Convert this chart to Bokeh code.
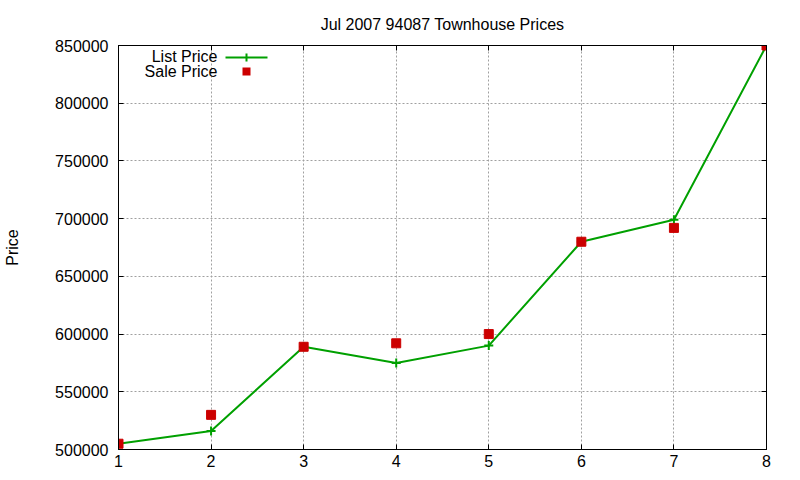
from bokeh.plotting import figure
from bokeh.models import (Range1d, LinearAxis, FixedTicker, Label, BoxAnnotation,
                          ColumnDataSource, BasicTickFormatter)
from bokeh.embed import file_html
from bokeh.resources import INLINE

title_text = "Jul 2007 94087 Townhouse Prices"
y_label = "Price"
series_names = ["List Price", "Sale Price"]
x_ticks = [1, 2, 3, 4, 5, 6, 7, 8]
y_ticks = [500000, 550000, 600000, 650000, 700000, 750000, 800000, 850000]
index = [1, 2, 3, 4, 5, 6, 7, 8]
list_price = [505000, 516000, 589000, 575000, 590000, 680000, 699000, 850000]
sale_price = [505000, 530000, 589000, 592000, 600000, 680000, 692000, 850000]

GREEN = "#00a000"
RED = "#cc0000"
FONT = "Liberation Sans"

W, H = 784, 473
B_LEFT, B_RIGHT, B_TOP, B_BOTTOM = 118, 18, 45, 24
FRAME_H = H - B_TOP - B_BOTTOM

src = ColumnDataSource(dict(x=index, lp=list_price, sp=sale_price))

p = figure(width=W, height=H, output_backend="svg", toolbar_location=None,
           x_range=Range1d(x_ticks[0], x_ticks[-1]), y_range=Range1d(y_ticks[0], y_ticks[-1]),
           min_border_left=B_LEFT, min_border_right=B_RIGHT,
           min_border_top=B_TOP, min_border_bottom=B_BOTTOM)
p.background_fill_color = "white"
p.border_fill_color = "white"
p.outline_line_color = "black"
p.outline_line_width = 1

p.title.text = title_text
p.title.text_font = FONT
p.title.text_font_size = "16px"
p.title.text_font_style = "normal"
p.title.align = "center"
p.title.text_color = "black"
p.title.standoff = 26

for ax in p.xaxis + p.yaxis:
    ax.major_label_text_font = FONT
    ax.major_label_text_font_size = "16px"
    ax.major_label_text_color = "black"
    ax.axis_line_color = "black"
    ax.major_tick_in = 5
    ax.major_tick_out = 0
    ax.minor_tick_line_color = None
    ax.major_tick_line_color = "black"

p.xaxis.ticker = FixedTicker(ticks=x_ticks)
p.yaxis.ticker = FixedTicker(ticks=y_ticks)
p.yaxis.formatter = BasicTickFormatter(use_scientific=False)
p.xaxis.major_label_standoff = 5
p.yaxis.major_label_standoff = 10
p.yaxis.axis_label = y_label
p.yaxis.axis_label_text_font = FONT
p.yaxis.axis_label_text_font_size = "16px"
p.yaxis.axis_label_text_font_style = "normal"
p.yaxis.axis_label_text_color = "black"
p.yaxis.axis_label_standoff = 31

# mirrored ticks on top and right
top = LinearAxis(ticker=FixedTicker(ticks=x_ticks),
                 major_label_overrides={t: "" for t in x_ticks},
                 major_tick_in=5, major_tick_out=0, minor_tick_line_color=None,
                 major_label_standoff=0)
right = LinearAxis(ticker=FixedTicker(ticks=y_ticks),
                   major_label_overrides={t: "" for t in y_ticks},
                   major_tick_in=5, major_tick_out=0, minor_tick_line_color=None,
                   major_label_standoff=0)
p.add_layout(top, "above")
p.add_layout(right, "right")

for g in p.xgrid + p.ygrid:
    g.grid_line_color = "#a0a0a0"
    g.grid_line_dash = "2 2"
    g.grid_line_width = 1

p.line("x", "lp", source=src, line_color=GREEN, line_width=2)
p.scatter("x", "lp", source=src, marker="cross", size=9, line_color=GREEN, line_width=2)
p.scatter("x", "sp", source=src, marker="square", size=9, fill_color=RED, line_color=RED)

# gnuplot-style key: text right-aligned, sample on the right (frame-relative screen units)
def from_top(d):
    return FRAME_H - d

key_text_x = 99
for name, d in zip(series_names, [11, 26]):
    p.add_layout(Label(x=key_text_x, y=from_top(d), x_units="screen", y_units="screen",
                       text=name, text_font=FONT, text_font_size="16px", text_align="right",
                       text_baseline="middle", text_color="black"))

def box(l, r, t, b, color):
    return BoxAnnotation(left=l, right=r, top=from_top(t), bottom=from_top(b),
                         left_units="screen", right_units="screen", top_units="screen",
                         bottom_units="screen", fill_color=color, fill_alpha=1, line_color=None)

p.add_layout(box(107, 149, 11, 13, GREEN))
p.add_layout(box(127, 129, 8, 16, GREEN))
p.add_layout(box(124, 132, 22, 30, RED))

open("out.html", "w").write(file_html(p, INLINE))
